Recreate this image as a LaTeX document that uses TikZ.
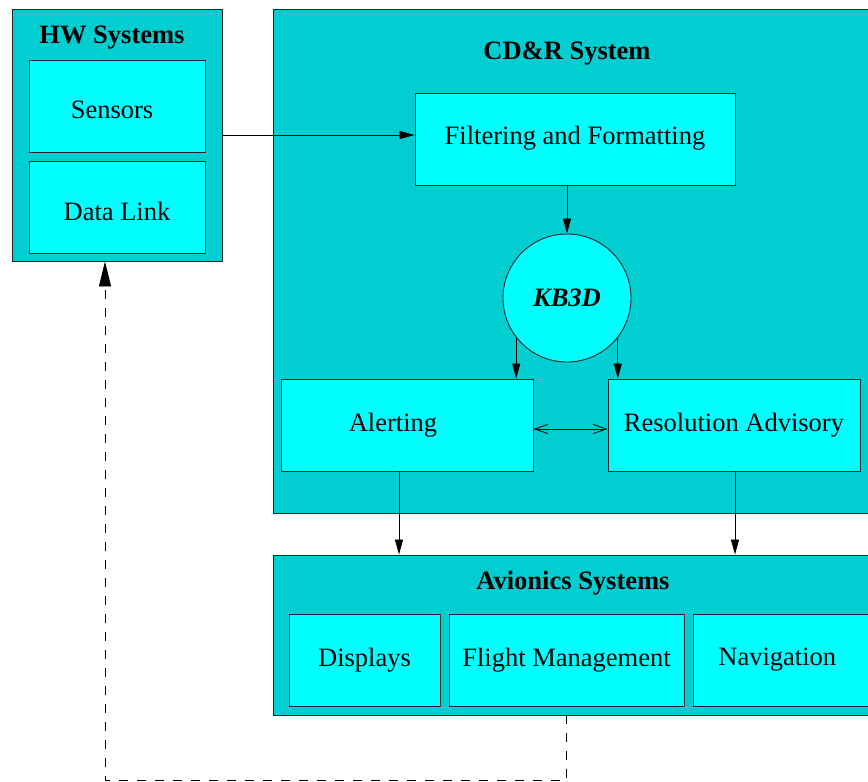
\documentclass[tikz,border=0pt]{standalone}
\usepackage{fontspec}
\setmainfont{Liberation Serif}
\usetikzlibrary{arrows.meta,calc}
\definecolor{outerc}{HTML}{00CED1}
\definecolor{innerc}{HTML}{00FFFF}
\begin{document}
\begin{tikzpicture}[x=1pt,y=-1pt,
  every node/.style={font=\fontsize{26.5}{30}\selectfont},
  outerbox/.style={draw=black!85, line width=0.9pt, fill=outerc, rectangle, inner sep=0pt},
  innerbox/.style={draw=black!85, line width=0.9pt, fill=innerc, rectangle, inner sep=0pt, minimum height=92pt},
  title/.style={font=\fontsize{26.5}{30}\selectfont\bfseries, inner sep=0pt},
  arr/.style={line width=0.8pt, -{Triangle[length=15pt,width=8pt]}},
  dbl/.style={line width=0.8pt, {Straight Barb[length=13pt,width=9pt]}-{Straight Barb[length=13pt,width=9pt]}},
  dasharr/.style={line width=0.9pt, dash pattern=on 9pt off 9pt, -{Triangle[length=25pt,width=12pt]}}
]
\useasboundingbox (0,0) rectangle (868,782);
\clip (0,0) rectangle (868,782);

% HW Systems
\node[outerbox, minimum width=210pt, minimum height=252pt] (hw) at (117,135) {};
\node[title] (hwt) at (112,38) {HW Systems};
\node[innerbox, minimum width=176pt] (sens) at (117,106) {\hspace*{-10pt}\raisebox{-4pt}[\height][\depth]{Sensors}};
\node[innerbox, minimum width=176pt] (dl) at (117,207) {\raisebox{-4pt}[\height][\depth]{Data Link}};

% CD&R System
\node[outerbox, minimum width=601pt, minimum height=504pt] (cdr) at (573.5,261) {};
\node[title] (cdrt) at (567,54) {CD\&R System};
\node[innerbox, minimum width=320pt] (filt) at (575,139) {\raisebox{1pt}[\height][\depth]{Filtering and Formatting}};
\node[circle, draw=black!85, line width=0.9pt, fill=innerc, minimum size=128pt, inner sep=0pt,
      font=\fontsize{26.5}{30}\selectfont\bfseries\itshape] (kb) at (567,298) {KB3D};
\node[innerbox, minimum width=252pt] (alert) at (407,425) {\hspace*{-28pt}Alerting};
\node[innerbox, minimum width=252pt] (resol) at (734,425) {Resolution Advisory};

% Avionics Systems
\node[outerbox, minimum width=601pt, minimum height=160pt] (avi) at (573.5,635) {};
\node[title] (avit) at (573,583) {Avionics Systems};
\node[innerbox, minimum width=151pt] (disp) at (364.5,660) {Displays};
\node[innerbox, minimum width=235pt] (fm) at (566.5,660) {Flight Management};
\node[innerbox, anchor=west, text width=160pt, align=left, inner xsep=25pt] (nav) at (693,660) {Navigation};

% connectors
\draw[arr] (hw.east) -- (hw.east -| filt.west);
\draw[arr] (kb.north |- filt.south) -- (kb.north);
\draw[arr] (kb.-142.8) -- (kb.-142.8 |- alert.north);
\draw[arr] (kb.-38.6) -- (kb.-38.6 |- resol.north);
\draw[dbl] ([yshift=-4pt]alert.east) -- ([yshift=-4pt]resol.west);
\draw[arr] ([xshift=-8pt]alert.south) -- ([xshift=-8pt]alert.south |- avi.north);
\draw[arr] ([xshift=1pt]resol.south) -- ([xshift=1pt]resol.south |- avi.north);
\coordinate (dcorner) at ($(avi.south -| fm.south)+(0,65)$);
\draw[dasharr] (avi.south -| fm.south) -- (dcorner) -| ([xshift=-12pt]hw.south);
\end{tikzpicture}
\end{document}
